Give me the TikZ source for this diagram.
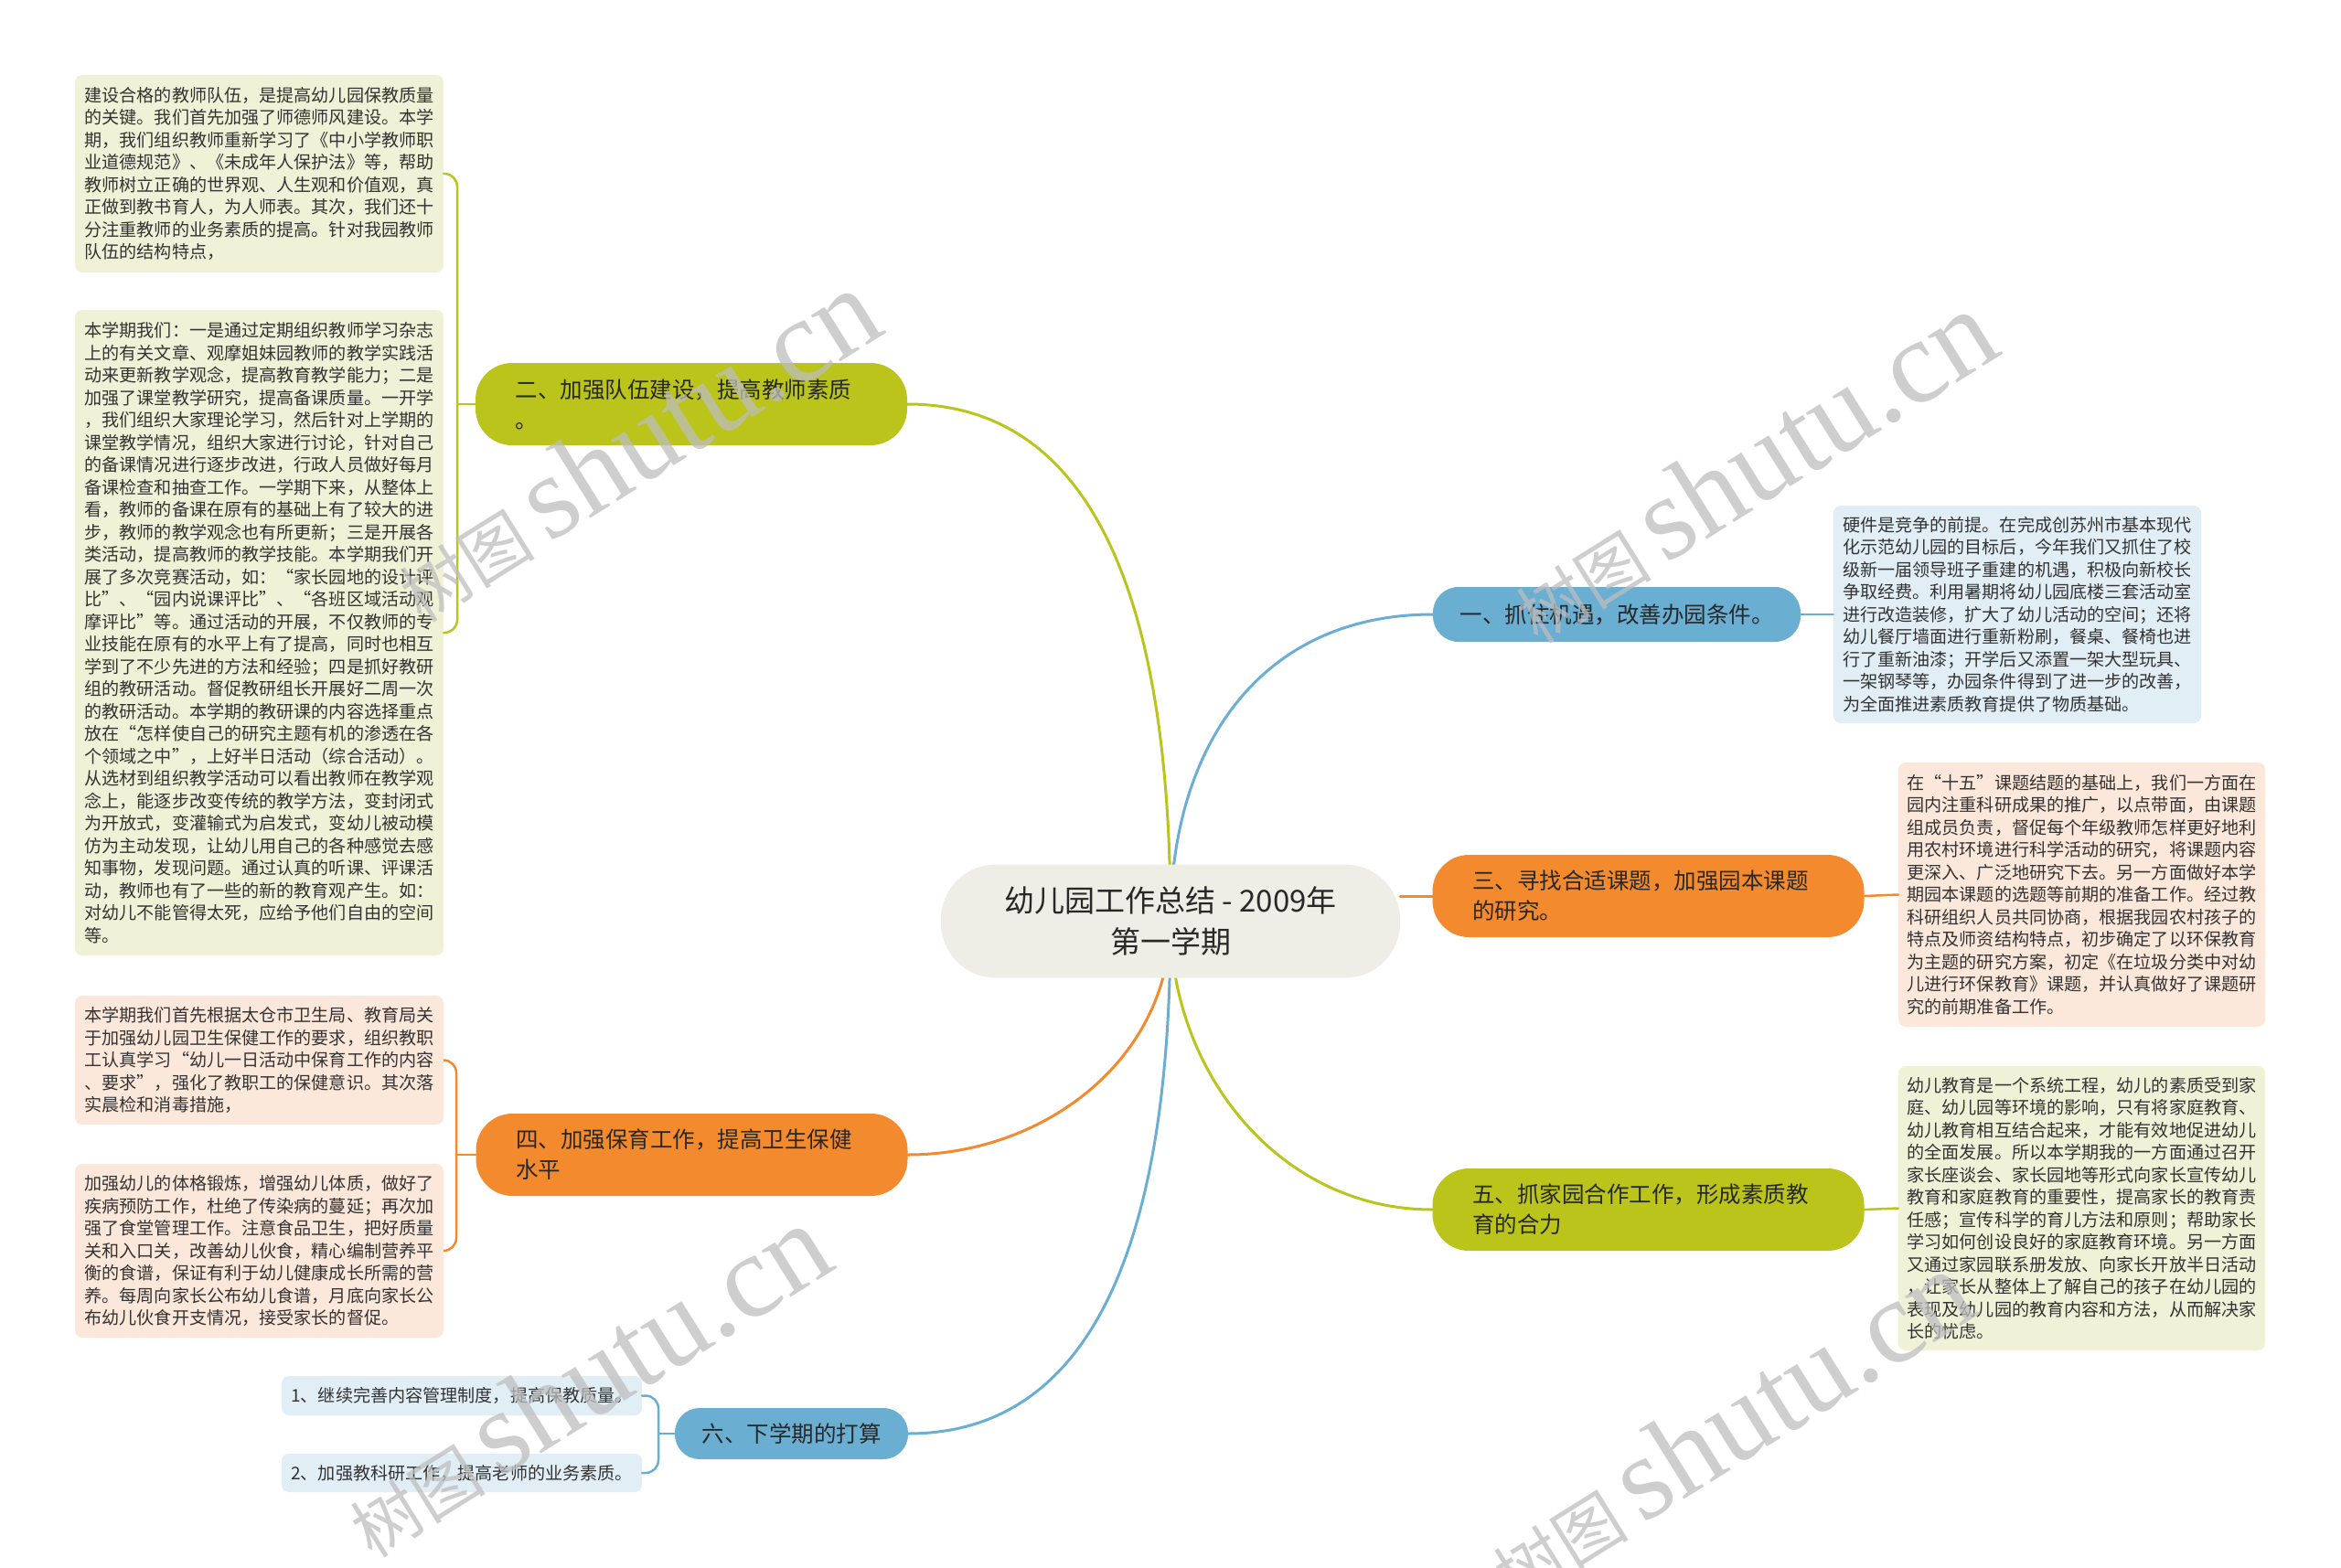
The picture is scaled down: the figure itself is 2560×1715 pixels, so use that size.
\documentclass[tikz,border=0pt]{standalone}
\usepackage{fontspec}
\setmainfont{Noto Sans CJK SC}
\newfontfamily\wmserif{Liberation Serif}
\usetikzlibrary{backgrounds}
\definecolor{cOlive}{RGB}{186,196,26}
\definecolor{cBlue}{RGB}{106,174,210}
\definecolor{cOrange}{RGB}{243,138,45}
\definecolor{cRoot}{RGB}{238,238,230}
\definecolor{lGreen}{RGB}{239,242,214}
\definecolor{lOrange}{RGB}{252,232,218}
\definecolor{lBlue}{RGB}{225,238,246}
\definecolor{tDark}{RGB}{40,40,40}
\definecolor{tLeaf}{RGB}{51,51,51}
\definecolor{wmGray}{RGB}{190,190,190}
\tikzset{
  rootbox/.style={fill=cRoot, rounded corners=60pt, minimum width=502pt, minimum height=124pt,
    align=center, text=tDark, font=\fontsize{33}{45}\selectfont, inner sep=0pt},
  brbox/.style={rounded corners=40pt, minimum height=90pt, inner ysep=0pt, text=tDark,
    font=\fontsize{24.5}{33}\selectfont},
  brtwo/.style={brbox, text width=385pt, inner xsep=43.5pt, align=left},
  brone/.style={brbox, align=center, inner xsep=0pt},
  leafbox/.style={rounded corners=8pt, align=left, inner sep=0pt, text=tLeaf,
    font=\fontsize{19.1}{24.5}\selectfont},
  conn/.style={line width=3pt, line cap=round},
  subconn/.style={line width=2.5pt, line cap=round, rounded corners=14pt},
  wm/.style={text=wmGray, opacity=0.75, rotate=32, inner sep=0pt}
}
\begin{document}
\begin{tikzpicture}[x=1pt,y=-1pt]
\useasboundingbox (0,0) rectangle (2560,1715);

% root
\node[rootbox] (root) at (1280,1007.5) {幼儿园工作总结 - 2009年\\第一学期};

% branches
\node[brtwo, fill=cOlive, minimum width=472pt] (b2) at (756,442) {二、加强队伍建设，提高教师素质\\。};
\node[brtwo, fill=cOrange, minimum width=472pt] (b4) at (756.5,1263) {四、加强保育工作，提高卫生保健\\水平};
\node[brone, fill=cBlue, minimum width=255pt, minimum height=56pt, rounded corners=27pt] (b6) at (865.5,1568) {六、下学期的打算};
\node[brone, fill=cBlue, minimum width=402pt, minimum height=60pt, rounded corners=28pt] (b1) at (1768,672) {一、抓住机遇，改善办园条件。};
\node[brtwo, fill=cOrange, minimum width=471pt] (b3) at (1802.5,980) {三、寻找合适课题，加强园本课题\\的研究。};
\node[brtwo, fill=cOlive, minimum width=471pt] (b5) at (1802.5,1323) {五、抓家园合作工作，形成素质教\\育的合力};

% leaves
\node[leafbox, fill=lGreen, minimum width=403pt, minimum height=216pt] (lA) at (283.5,190) {%
建设合格的教师队伍，是提高幼儿园保教质量\\
的关键。我们首先加强了师德师风建设。本学\\
期，我们组织教师重新学习了《中小学教师职\\
业道德规范》、《未成年人保护法》等，帮助\\
教师树立正确的世界观、人生观和价值观，真\\
正做到教书育人，为人师表。其次，我们还十\\
分注重教师的业务素质的提高。针对我园教师\\
队伍的结构特点，};

\node[leafbox, fill=lGreen, minimum width=403pt, minimum height=706pt] (lB) at (283.5,692) {%
本学期我们：一是通过定期组织教师学习杂志\\
上的有关文章、观摩姐妹园教师的教学实践活\\
动来更新教学观念，提高教育教学能力；二是\\
加强了课堂教学研究，提高备课质量。一开学\\
，我们组织大家理论学习，然后针对上学期的\\
课堂教学情况，组织大家进行讨论，针对自己\\
的备课情况进行逐步改进，行政人员做好每月\\
备课检查和抽查工作。一学期下来，从整体上\\
看，教师的备课在原有的基础上有了较大的进\\
步，教师的教学观念也有所更新；三是开展各\\
类活动，提高教师的教学技能。本学期我们开\\
展了多次竞赛活动，如：“家长园地的设计评\\
比”、“园内说课评比”、“各班区域活动观\\
摩评比”等。通过活动的开展，不仅教师的专\\
业技能在原有的水平上有了提高，同时也相互\\
学到了不少先进的方法和经验；四是抓好教研\\
组的教研活动。督促教研组长开展好二周一次\\
的教研活动。本学期的教研课的内容选择重点\\
放在“怎样使自己的研究主题有机的渗透在各\\
个领域之中”，上好半日活动（综合活动）。\\
从选材到组织教学活动可以看出教师在教学观\\
念上，能逐步改变传统的教学方法，变封闭式\\
为开放式，变灌输式为启发式，变幼儿被动模\\
仿为主动发现，让幼儿用自己的各种感觉去感\\
知事物，发现问题。通过认真的听课、评课活\\
动，教师也有了一些的新的教育观产生。如：\\
对幼儿不能管得太死，应给予他们自由的空间\\
等。};

\node[leafbox, fill=lOrange, minimum width=403pt, minimum height=141pt] (lC) at (283.5,1159.5) {%
本学期我们首先根据太仓市卫生局、教育局关\\
于加强幼儿园卫生保健工作的要求，组织教职\\
工认真学习“幼儿一日活动中保育工作的内容\\
、要求”，强化了教职工的保健意识。其次落\\
实晨检和消毒措施，};

\node[leafbox, fill=lOrange, minimum width=403pt, minimum height=190pt] (lD) at (283.5,1368) {%
加强幼儿的体格锻炼，增强幼儿体质，做好了\\
疾病预防工作，杜绝了传染病的蔓延；再次加\\
强了食堂管理工作。注意食品卫生，把好质量\\
关和入口关，改善幼儿伙食，精心编制营养平\\
衡的食谱，保证有利于幼儿健康成长所需的营\\
养。每周向家长公布幼儿食谱，月底向家长公\\
布幼儿伙食开支情况，接受家长的督促。};

\node[leafbox, fill=lBlue, minimum width=402pt, minimum height=238pt] (lE) at (2206,672) {%
硬件是竞争的前提。在完成创苏州市基本现代\\
化示范幼儿园的目标后，今年我们又抓住了校\\
级新一届领导班子重建的机遇，积极向新校长\\
争取经费。利用暑期将幼儿园底楼三套活动室\\
进行改造装修，扩大了幼儿活动的空间；还将\\
幼儿餐厅墙面进行重新粉刷，餐桌、餐椅也进\\
行了重新油漆；开学后又添置一架大型玩具、\\
一架钢琴等，办园条件得到了进一步的改善，\\
为全面推进素质教育提供了物质基础。};

\node[leafbox, fill=lOrange, minimum width=401pt, minimum height=289pt] (lF) at (2276.5,978.5) {%
在“十五”课题结题的基础上，我们一方面在\\
园内注重科研成果的推广，以点带面，由课题\\
组成员负责，督促每个年级教师怎样更好地利\\
用农村环境进行科学活动的研究，将课题内容\\
更深入、广泛地研究下去。另一方面做好本学\\
期园本课题的选题等前期的准备工作。经过教\\
科研组织人员共同协商，根据我园农村孩子的\\
特点及师资结构特点，初步确定了以环保教育\\
为主题的研究方案，初定《在垃圾分类中对幼\\
儿进行环保教育》课题，并认真做好了课题研\\
究的前期准备工作。};

\node[leafbox, fill=lGreen, minimum width=401pt, minimum height=311pt] (lG) at (2276.5,1321.5) {%
幼儿教育是一个系统工程，幼儿的素质受到家\\
庭、幼儿园等环境的影响，只有将家庭教育、\\
幼儿教育相互结合起来，才能有效地促进幼儿\\
的全面发展。所以本学期我的一方面通过召开\\
家长座谈会、家长园地等形式向家长宣传幼儿\\
教育和家庭教育的重要性，提高家长的教育责\\
任感；宣传科学的育儿方法和原则；帮助家长\\
学习如何创设良好的家庭教育环境。另一方面\\
又通过家园联系册发放、向家长开放半日活动\\
，让家长从整体上了解自己的孩子在幼儿园的\\
表现及幼儿园的教育内容和方法，从而解决家\\
长的忧虑。};

\node[leafbox, fill=lBlue, minimum width=394pt, minimum height=43pt] (lH) at (505,1526.5) {1、继续完善内容管理制度，提高保教质量。};
\node[leafbox, fill=lBlue, minimum width=394pt, minimum height=42pt] (lI) at (505,1611) {2、加强教科研工作，提高老师的业务素质。};

% junction coordinates
\coordinate (j2) at (500,442);
\coordinate (j4) at (499,1263);
\coordinate (j6) at (720,1568);

\begin{scope}[on background layer]
  \fill[white] (0,0) rectangle (2560,1715);
  \draw[conn, cOlive] (root.center) to[out=90, in=0] (b2.east);
  \draw[conn, cBlue] (root.center) to[out=90, in=180, looseness=1.1] (b1.west);
  \draw[conn, cOrange] (b3.west -| root.east) -- (b3.west);
  \draw[conn, cOrange] (root.center) to[out=270, in=0] (b4.east);
  \draw[conn, cOlive] (root.center) to[out=270, in=180] (b5.west);
  \draw[conn, cBlue] (root.center) to[out=270, in=0] (b6.east);
\end{scope}

% sub connectors
\draw[subconn, cOlive] (b2.west) -- (j2);
\draw[subconn, cOlive] (j2) |- (lA.east);
\draw[subconn, cOlive] (j2) |- (lB.east);
\draw[subconn, cOrange] (b4.west) -- (j4);
\draw[subconn, cOrange] (j4) |- (lC.east);
\draw[subconn, cOrange] (j4) |- (lD.east);
\draw[subconn, cBlue] (b6.west) -- (j6);
\draw[subconn, cBlue] (j6) |- (lH.east);
\draw[subconn, cBlue] (j6) |- (lI.east);
\draw[subconn, cBlue] (b1.east) -- (lE.west);
\draw[subconn, cOrange] (b3.east) -- (lF.west);
\draw[subconn, cOlive] (b5.east) -- (lG.west);

% watermarks
\node[wm] (w1) at (694,487) {\fontsize{74}{74}\selectfont 树图 \wmserif\fontsize{130}{130}\selectfont shutu.cn};
\node[wm] (w2) at (1915,510) {\fontsize{74}{74}\selectfont 树图 \wmserif\fontsize{130}{130}\selectfont shutu.cn};
\node[wm] (w3) at (640,1510) {\fontsize{74}{74}\selectfont 树图 \wmserif\fontsize{130}{130}\selectfont shutu.cn};
\node[wm] (w4) at (1890,1560) {\fontsize{74}{74}\selectfont 树图 \wmserif\fontsize{130}{130}\selectfont shutu.cn};
\end{tikzpicture}
\end{document}
